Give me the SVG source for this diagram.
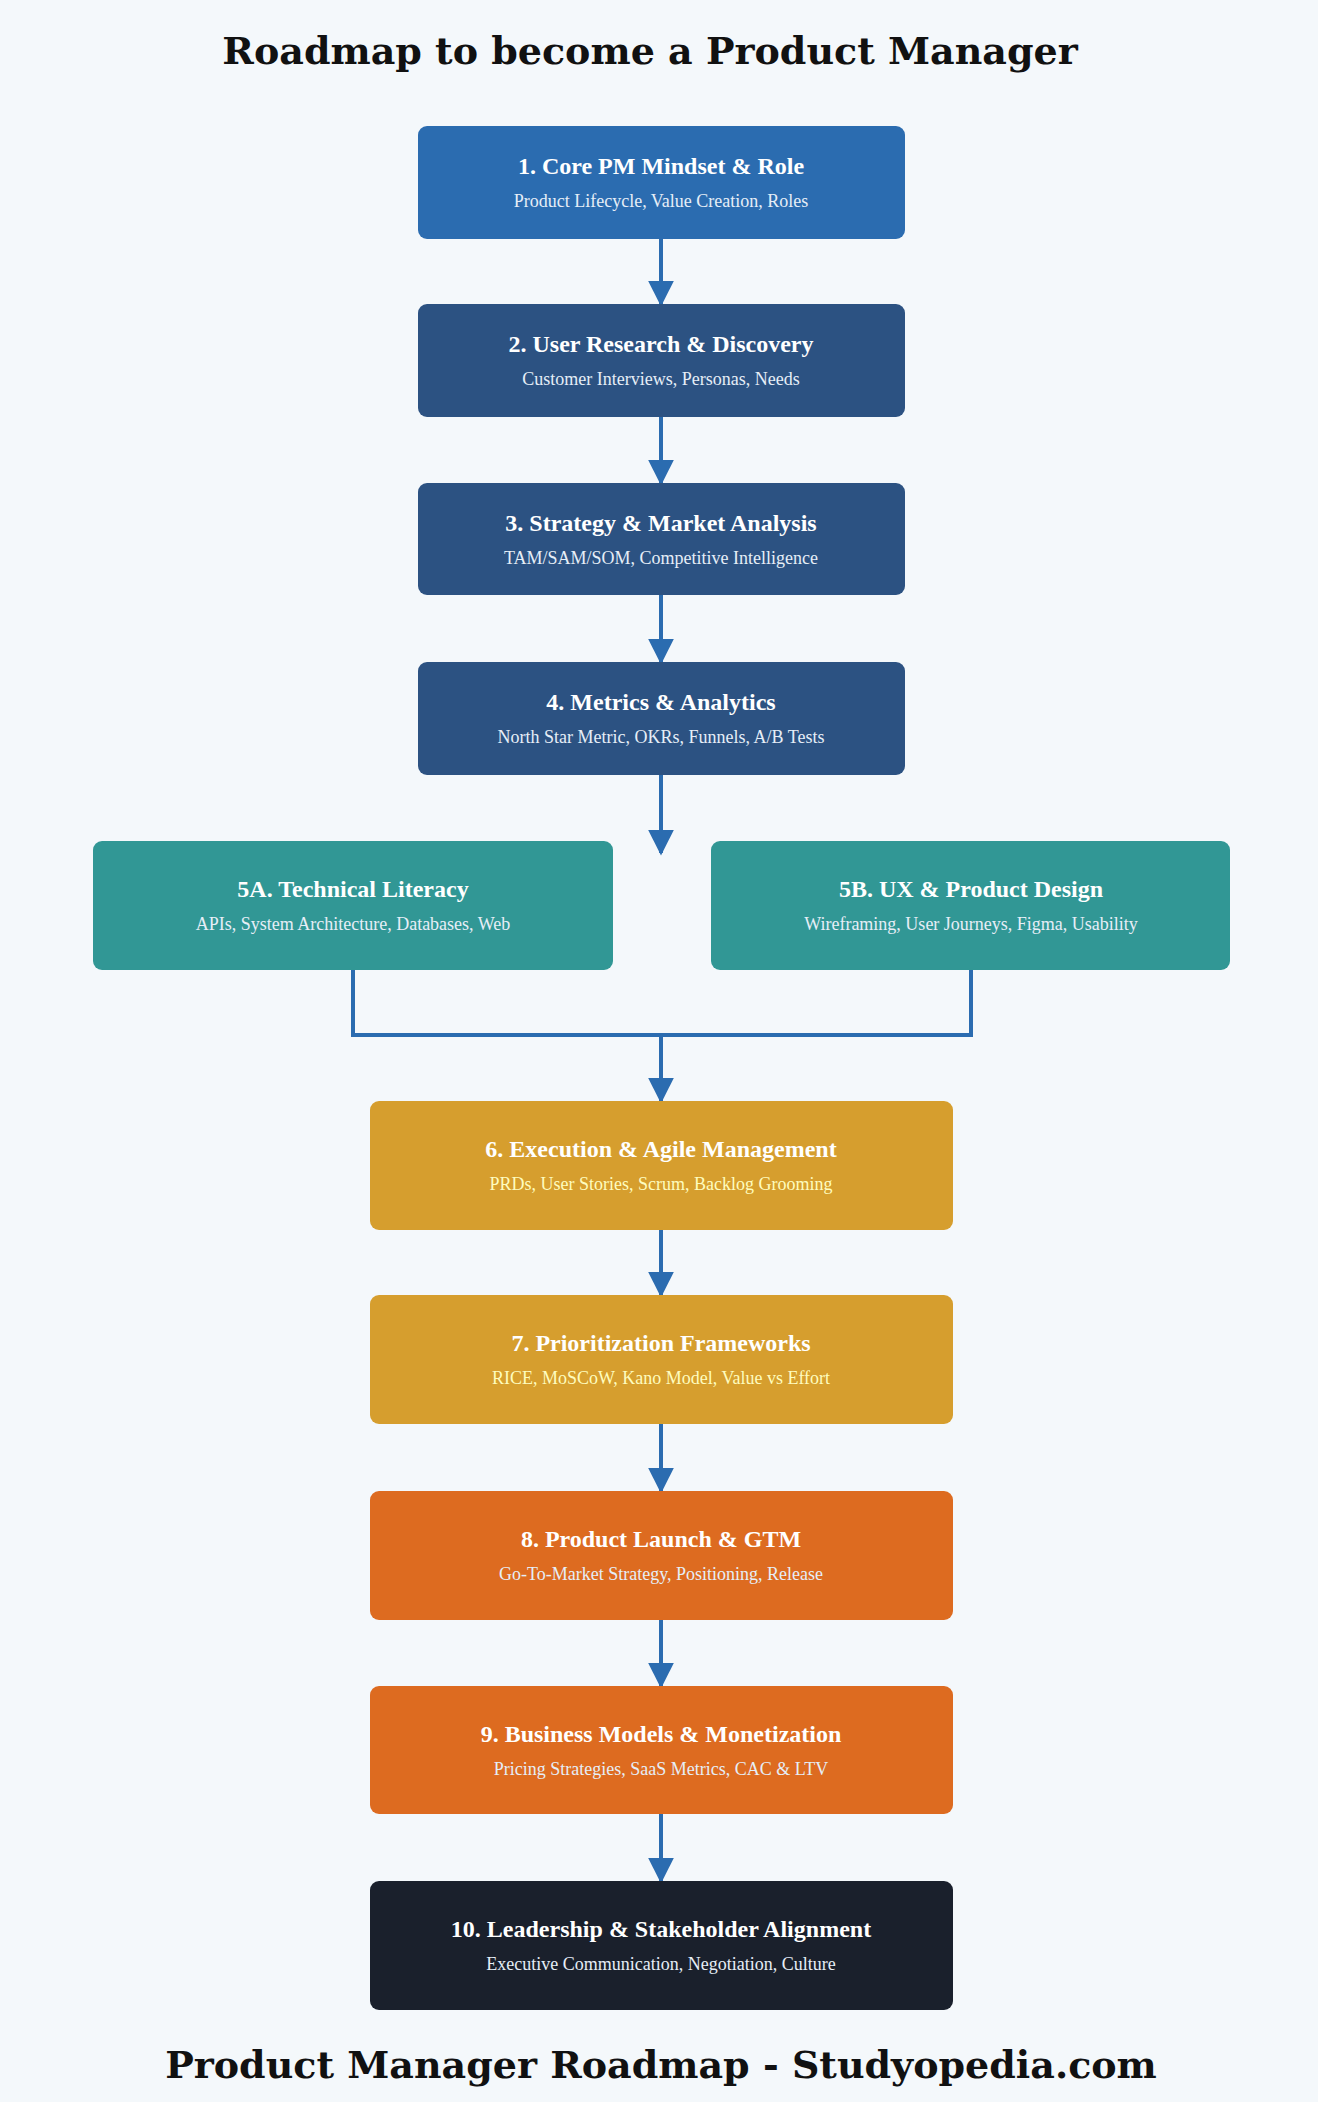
<svg xmlns="http://www.w3.org/2000/svg" width="1318" height="2102" viewBox="0 0 1318 2102">
<style>
.t{font-family:"Liberation Serif",serif;font-weight:bold;font-size:24px;fill:#fff;text-anchor:middle}
.s{font-family:"Liberation Serif",serif;font-size:18px;fill:#e6eef7;text-anchor:middle}
.h{font-family:"DejaVu Serif","Liberation Serif",serif;font-weight:bold;font-size:38px;fill:#111;text-anchor:middle}
.ln{stroke:#2b6cb0;stroke-width:4;fill:none}
</style>
<defs><marker id="a" markerWidth="8" markerHeight="8" refX="5" refY="4" orient="auto" markerUnits="userSpaceOnUse" viewBox="0 0 10 8"><path d="M0,0 L10,4 L0,8z" fill="#2b6cb0"/></marker>
<marker id="b" viewBox="0 0 10 10" refX="9" refY="5" markerWidth="26" markerHeight="26" markerUnits="userSpaceOnUse" orient="auto"><path d="M0,0 L10,5 L0,10z" fill="#2b6cb0"/></marker></defs>
<rect width="1318" height="2102" fill="#f4f8fb"/>
<text class="h" x="650" y="64">Roadmap to become a Product Manager</text>
<g id="connectors">
<line class="ln" x1="661" y1="239" x2="661" y2="304" marker-end="url(#b)"/>
<line class="ln" x1="661" y1="417" x2="661" y2="483" marker-end="url(#b)"/>
<line class="ln" x1="661" y1="595" x2="661" y2="662" marker-end="url(#b)"/>
<line class="ln" x1="661" y1="775" x2="661" y2="853" marker-end="url(#b)"/>
<polyline class="ln" points="353,970 353,1035 971,1035 971,970"/>
<line class="ln" x1="661" y1="1035" x2="661" y2="1101" marker-end="url(#b)"/>
<line class="ln" x1="661" y1="1230" x2="661" y2="1295" marker-end="url(#b)"/>
<line class="ln" x1="661" y1="1424" x2="661" y2="1491" marker-end="url(#b)"/>
<line class="ln" x1="661" y1="1620" x2="661" y2="1686" marker-end="url(#b)"/>
<line class="ln" x1="661" y1="1814" x2="661" y2="1881" marker-end="url(#b)"/>
</g>
<g id="n1"><rect x="418" y="126" width="487" height="113" rx="9" fill="#2b6cb0"/><text class="t" x="661" y="174">1. Core PM Mindset &amp; Role</text><text class="s" x="661" y="207">Product Lifecycle, Value Creation, Roles</text></g>
<g id="n2"><rect x="418" y="304" width="487" height="113" rx="9" fill="#2c5282"/><text class="t" x="661" y="352">2. User Research &amp; Discovery</text><text class="s" x="661" y="385">Customer Interviews, Personas, Needs</text></g>
<g id="n3"><rect x="418" y="483" width="487" height="112" rx="9" fill="#2c5282"/><text class="t" x="661" y="531">3. Strategy &amp; Market Analysis</text><text class="s" x="661" y="564">TAM/SAM/SOM, Competitive Intelligence</text></g>
<g id="n4"><rect x="418" y="662" width="487" height="113" rx="9" fill="#2c5282"/><text class="t" x="661" y="710">4. Metrics &amp; Analytics</text><text class="s" x="661" y="743">North Star Metric, OKRs, Funnels, A/B Tests</text></g>
<g id="n5a"><rect x="93" y="841" width="520" height="129" rx="9" fill="#319795"/><text class="t" x="353" y="897">5A. Technical Literacy</text><text class="s" x="353" y="930">APIs, System Architecture, Databases, Web</text></g>
<g id="n5b"><rect x="711" y="841" width="519" height="129" rx="9" fill="#319795"/><text class="t" x="971" y="897">5B. UX &amp; Product Design</text><text class="s" x="971" y="930">Wireframing, User Journeys, Figma, Usability</text></g>
<g id="n6"><rect x="370" y="1101" width="583" height="129" rx="9" fill="#d69e2e"/><text class="t" x="661" y="1157">6. Execution &amp; Agile Management</text><text class="s" x="661" y="1190" style="fill:#fefcbf">PRDs, User Stories, Scrum, Backlog Grooming</text></g>
<g id="n7"><rect x="370" y="1295" width="583" height="129" rx="9" fill="#d69e2e"/><text class="t" x="661" y="1351">7. Prioritization Frameworks</text><text class="s" x="661" y="1384" style="fill:#fefcbf">RICE, MoSCoW, Kano Model, Value vs Effort</text></g>
<g id="n8"><rect x="370" y="1491" width="583" height="129" rx="9" fill="#dd6b20"/><text class="t" x="661" y="1547">8. Product Launch &amp; GTM</text><text class="s" x="661" y="1580">Go-To-Market Strategy, Positioning, Release</text></g>
<g id="n9"><rect x="370" y="1686" width="583" height="128" rx="9" fill="#dd6b20"/><text class="t" x="661" y="1742">9. Business Models &amp; Monetization</text><text class="s" x="661" y="1775">Pricing Strategies, SaaS Metrics, CAC &amp; LTV</text></g>
<g id="n10"><rect x="370" y="1881" width="583" height="129" rx="9" fill="#1a202c"/><text class="t" x="661" y="1937">10. Leadership &amp; Stakeholder Alignment</text><text class="s" x="661" y="1970">Executive Communication, Negotiation, Culture</text></g>
<text class="h" x="661" y="2078">Product Manager Roadmap - Studyopedia.com</text>
</svg>
